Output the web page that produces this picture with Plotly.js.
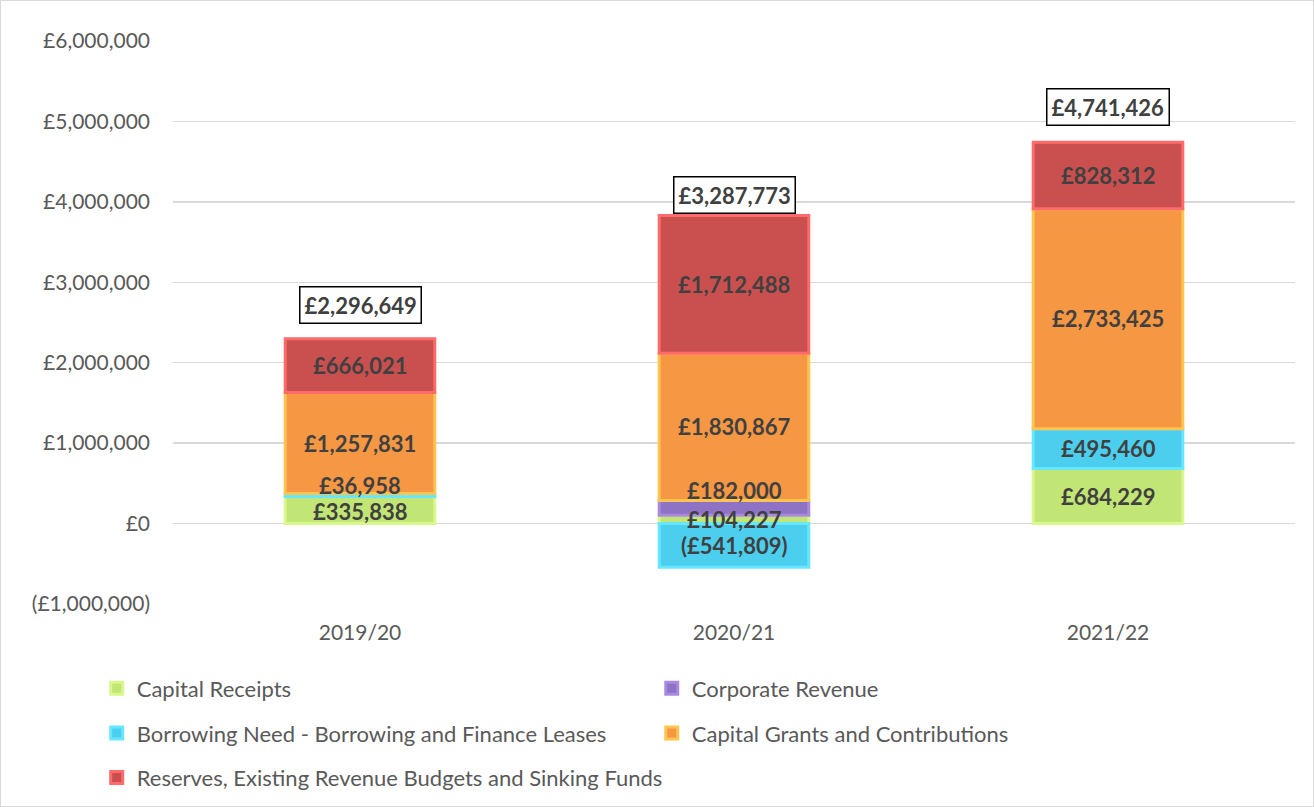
<!DOCTYPE html>
<html>
<head>
<meta charset="utf-8">
<script src="https://cdn.plot.ly/plotly-3.0.1.min.js"></script>
<style>
  html, body { margin: 0; padding: 0; background: #fff; }
  #chart { width: 1314px; height: 807px; box-sizing: border-box; border: 1px solid #d9d9d9; }
</style>
</head>
<body>
<div id="chart"></div>
<script>
// ---- Data ----
const categories = ['2019/20', '2020/21', '2021/22'];
const seriesNames = [
  'Capital Receipts',
  'Corporate Revenue',
  'Borrowing Need - Borrowing and Finance Leases',
  'Capital Grants and Contributions',
  'Reserves, Existing Revenue Budgets and Sinking Funds'
];
const capitalReceipts  = [335838, 104227, 684229];
const corporateRevenue = [0, 182000, 0];
const borrowingNeed    = [36958, -541809, 495460];
const capitalGrants    = [1257831, 1830867, 2733425];
const reserves         = [666021, 1712488, 828312];
const totals           = [2296649, 3287773, 4741426];
const yTickVals = [-1000000, 0, 1000000, 2000000, 3000000, 4000000, 5000000, 6000000];
const yTickText = ['(£1,000,000)', '£0', '£1,000,000', '£2,000,000', '£3,000,000', '£4,000,000', '£5,000,000', '£6,000,000'];

// ---- Styles ----
const seriesValues = [capitalReceipts, corporateRevenue, borrowingNeed, capitalGrants, reserves];
const fillColors = ['#c2e675', '#8e72c4', '#4ccfee', '#f59743', '#c9504f'];
const edgeColors = ['#d8f78c', '#a98ae0', '#66e6ff', '#ffc44f', '#ff6b6b'];
const legendOf  = ['legend', 'legend2', 'legend', 'legend2', 'legend'];
// label nudges (pixels) for crowded segments: [series][category]
const labelShift = [[-1, 0, 0], [0, 17, 0], [10, 0, 0], [0, 0, 0], [0, 0, 0]];
const totalShift = [15, 2, 16];

const FONT = 'Lato, "Open Sans", sans-serif';
const TXT = 21;
const BOLD = 22;
const LEG = 22;

function fmt(v) {
  const s = '£' + Math.abs(v).toLocaleString('en-GB');
  return v < 0 ? '(' + s + ')' : s;
}

const traces = seriesValues.map((vals, i) => ({
  type: 'bar',
  name: seriesNames[i],
  x: categories,
  y: vals,
  marker: { color: fillColors[i], line: { color: edgeColors[i], width: 3 } },
  legend: legendOf[i],
  legendgroup: 'g' + i,
  hoverinfo: 'x+y+name'
}));

const annotations = [];
categories.forEach((c, j) => {
  let pos = 0, neg = 0;
  seriesValues.forEach((vals, i) => {
    const v = vals[j];
    if (!v) return;
    let mid;
    if (v > 0) { mid = pos + v / 2; pos += v; } else { mid = neg + v / 2; neg += v; }
    annotations.push({
      x: c, y: mid, xref: 'x', yref: 'y', text: fmt(v), showarrow: false,
      yshift: labelShift[i][j],
      font: { family: FONT, size: BOLD, color: '#404040', weight: 'bold' }
    });
  });
  annotations.push({
    x: c, y: pos, xref: 'x', yref: 'y', text: fmt(totals[j]), showarrow: false,
    yanchor: 'bottom', yshift: totalShift[j],
    bgcolor: '#ffffff', bordercolor: '#000000', borderwidth: 1.5, borderpad: 4,
    font: { family: FONT, size: BOLD, color: '#404040', weight: 'bold' }
  });
});

const legendCommon = {
  xref: 'paper', yref: 'container', xanchor: 'left', yanchor: 'top',
  orientation: 'v', tracegroupgap: 13, bgcolor: 'rgba(0,0,0,0)',
  font: { family: FONT, size: LEG, color: '#595959' }, itemclick: false
};

const layout = {
  width: 1312, height: 805,
  margin: { l: 172, r: 18, t: 40, b: 202 },
  paper_bgcolor: '#ffffff', plot_bgcolor: '#ffffff',
  barmode: 'relative',
  bargap: 0.6,
  font: { family: FONT, size: TXT, color: '#595959' },
  xaxis: {
    type: 'category', showgrid: false, zeroline: false, showline: false,
    ticks: '', ticklabelstandoff: 14, automargin: false,
    tickfont: { family: FONT, size: TXT, color: '#595959' }
  },
  yaxis: {
    range: [-1000000, 6000000], tickvals: yTickVals, ticktext: yTickText,
    showgrid: true, gridcolor: '#d9d9d9', gridwidth: 1.5,
    zeroline: true, zerolinecolor: '#d9d9d9', zerolinewidth: 1.5,
    showline: false, ticks: '', ticklabelstandoff: 22, automargin: false,
    tickfont: { family: FONT, size: TXT, color: '#595959' }
  },
  showlegend: true,
  legend: Object.assign({ x: -0.068, y: 0.172 }, legendCommon),
  legend2: Object.assign({ x: 0.4267, y: 0.172 }, legendCommon),
  annotations: annotations
};

Plotly.newPlot('chart', traces, layout, { displayModeBar: false, staticPlot: true });
</script>
</body>
</html>
